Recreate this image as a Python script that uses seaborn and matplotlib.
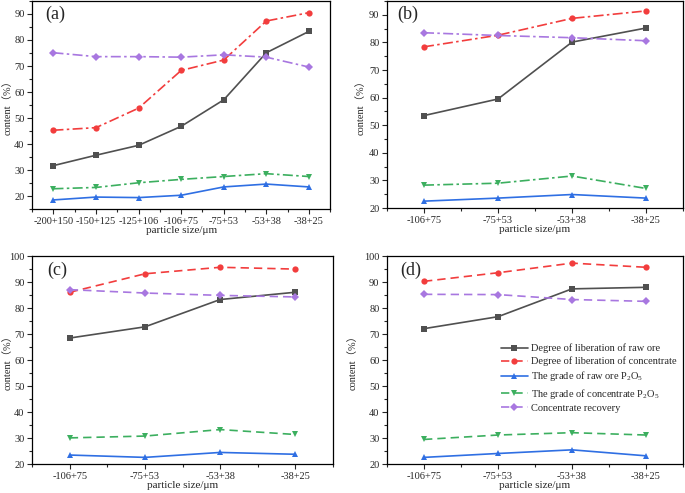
"""
Liberation degree, grade and recovery vs particle size (four panels)
"""
import matplotlib
matplotlib.use("Agg")
import matplotlib.pyplot as plt
import seaborn as sns
import pandas as pd
from matplotlib.ticker import MultipleLocator, AutoMinorLocator

# ---- data ----
sizes_a = ['-200+150', '-150+125', '-125+106', '-106+75', '-75+53', '-53+38', '-38+25']
sizes_bcd = ['-106+75', '-75+53', '-53+38', '-38+25']

raw_lib_a = [31.7, 35.7, 39.5, 46.8, 57.0, 75.1, 83.3]
conc_lib_a = [45.3, 46.3, 53.8, 68.3, 72.3, 87.3, 90.5]
raw_grade_a = [18.5, 19.6, 19.4, 20.3, 23.5, 24.6, 23.5]
conc_grade_a = [22.8, 23.3, 25.1, 26.4, 27.5, 28.6, 27.5]
recovery_a = [75.1, 73.6, 73.6, 73.4, 74.3, 73.4, 69.6]

raw_lib_b = [53.5, 59.5, 80.1, 85.2]
conc_lib_b = [78.4, 82.6, 88.7, 91.4]
raw_grade_b = [22.5, 23.6, 24.9, 23.6]
conc_grade_b = [28.3, 29.0, 31.6, 27.1]
recovery_b = [83.5, 82.5, 81.7, 80.6]

raw_lib_c = [68.6, 72.9, 83.4, 86.2]
conc_lib_c = [86.2, 93.3, 95.8, 95.1]
raw_grade_c = [23.6, 22.7, 24.6, 23.9]
conc_grade_c = [30.2, 30.9, 33.4, 31.5]
recovery_c = [87.2, 85.9, 85.0, 84.4]

raw_lib_d = [72.2, 76.8, 87.5, 88.1]
conc_lib_d = [90.4, 93.7, 97.4, 95.8]
raw_grade_d = [22.7, 24.2, 25.6, 23.3]
conc_grade_d = [29.6, 31.3, 32.2, 31.3]
recovery_d = [85.4, 85.3, 83.4, 82.7]

series_names = ['Degree of liberation of raw ore',
                'Degree of liberation of concentrate',
                r'The grade of raw ore P$_\mathrm{2}$O$_\mathrm{5}$',
                r'The grade of concentrate P$_\mathrm{2}$O$_\mathrm{5}$',
                'Concentrate recovery']
colors = ['#505050', '#f23d3d', '#2f6fe3', '#3caf5f', '#a877e0']
markers = ['s', 'o', '^', 'v', 'D']

sns.set_style("ticks")
plt.rcParams['font.family'] = ['Liberation Serif', 'Noto Sans CJK SC']
plt.rcParams['mathtext.fontset'] = 'custom'
plt.rcParams['mathtext.rm'] = 'Liberation Serif'
plt.rcParams['mathtext.it'] = 'Liberation Serif:italic'


def draw_panel(ax, sizes, values, dash, ylim, letter, letter_x, ylab_x):
    for i, (vals, name) in enumerate(zip(values, series_names)):
        df = pd.DataFrame({'size': sizes, 'value': vals})
        ls = '-' if i in (0, 2) else dash
        sns.lineplot(data=df, x='size', y='value', ax=ax, sort=False,
                     color=colors[i], marker=markers[i],
                     markersize=4.5 if markers[i] != 'D' else 3.8,
                     markeredgewidth=0, linewidth=1.2, label=name)
        ax.lines[-1].set_linestyle(ls)
    ax.set_xlim(-0.5, len(sizes) - 0.5)
    ax.set_ylim(*ylim)
    ax.yaxis.set_major_locator(MultipleLocator(10))
    ax.yaxis.set_minor_locator(MultipleLocator(5))
    ax.xaxis.set_minor_locator(AutoMinorLocator(2))
    ax.tick_params(which='both', direction='out', labelsize=7.5, width=0.8, pad=2)
    ax.tick_params(which='major', length=3.5)
    ax.tick_params(which='minor', length=2)
    ax.set_xlabel('particle size/μm', fontsize=8, labelpad=0)
    ax.set_ylabel('content（%）', fontsize=7.5)
    ax.yaxis.set_label_coords(ylab_x, 0.5)
    for sp in ax.spines.values():
        sp.set_linewidth(0.9)
        sp.set_color('black')
    ax.text(letter_x, 0.975, letter, transform=ax.transAxes,
            fontsize=13, va='top', ha='left')
    ax.get_legend().remove()


fig = plt.figure(figsize=(6.85, 4.93), dpi=100)
ax_a = fig.add_axes([0.047, 0.576, 0.435, 0.422])
ax_b = fig.add_axes([0.565, 0.578, 0.432, 0.420])
ax_c = fig.add_axes([0.047, 0.058, 0.439, 0.422])
ax_d = fig.add_axes([0.565, 0.058, 0.432, 0.422])

draw_panel(ax_a, sizes_a, [raw_lib_a, conc_lib_a, raw_grade_a, conc_grade_a, recovery_a],
           (0, (6, 2, 1.5, 2)), (15, 95), '(a)', 0.045, -0.066)
draw_panel(ax_b, sizes_bcd, [raw_lib_b, conc_lib_b, raw_grade_b, conc_grade_b, recovery_b],
           (0, (6, 2, 1.5, 2)), (20, 95), '(b)', 0.035, -0.072)
draw_panel(ax_c, sizes_bcd, [raw_lib_c, conc_lib_c, raw_grade_c, conc_grade_c, recovery_c],
           (0, (5, 3)), (20, 100), '(c)', 0.05, -0.066)
draw_panel(ax_d, sizes_bcd, [raw_lib_d, conc_lib_d, raw_grade_d, conc_grade_d, recovery_d],
           (0, (5, 3)), (20, 100), '(d)', 0.045, -0.1)

handles = ax_d.get_lines()[:5]
ax_d.legend(handles, series_names, loc='upper left', bbox_to_anchor=(0.37, 0.6),
            frameon=False, fontsize=7.5, handlelength=2.6, handletextpad=0.3,
            labelspacing=0.3, borderaxespad=0)

fig.savefig('out.png', dpi=100)
plt.close(fig)
